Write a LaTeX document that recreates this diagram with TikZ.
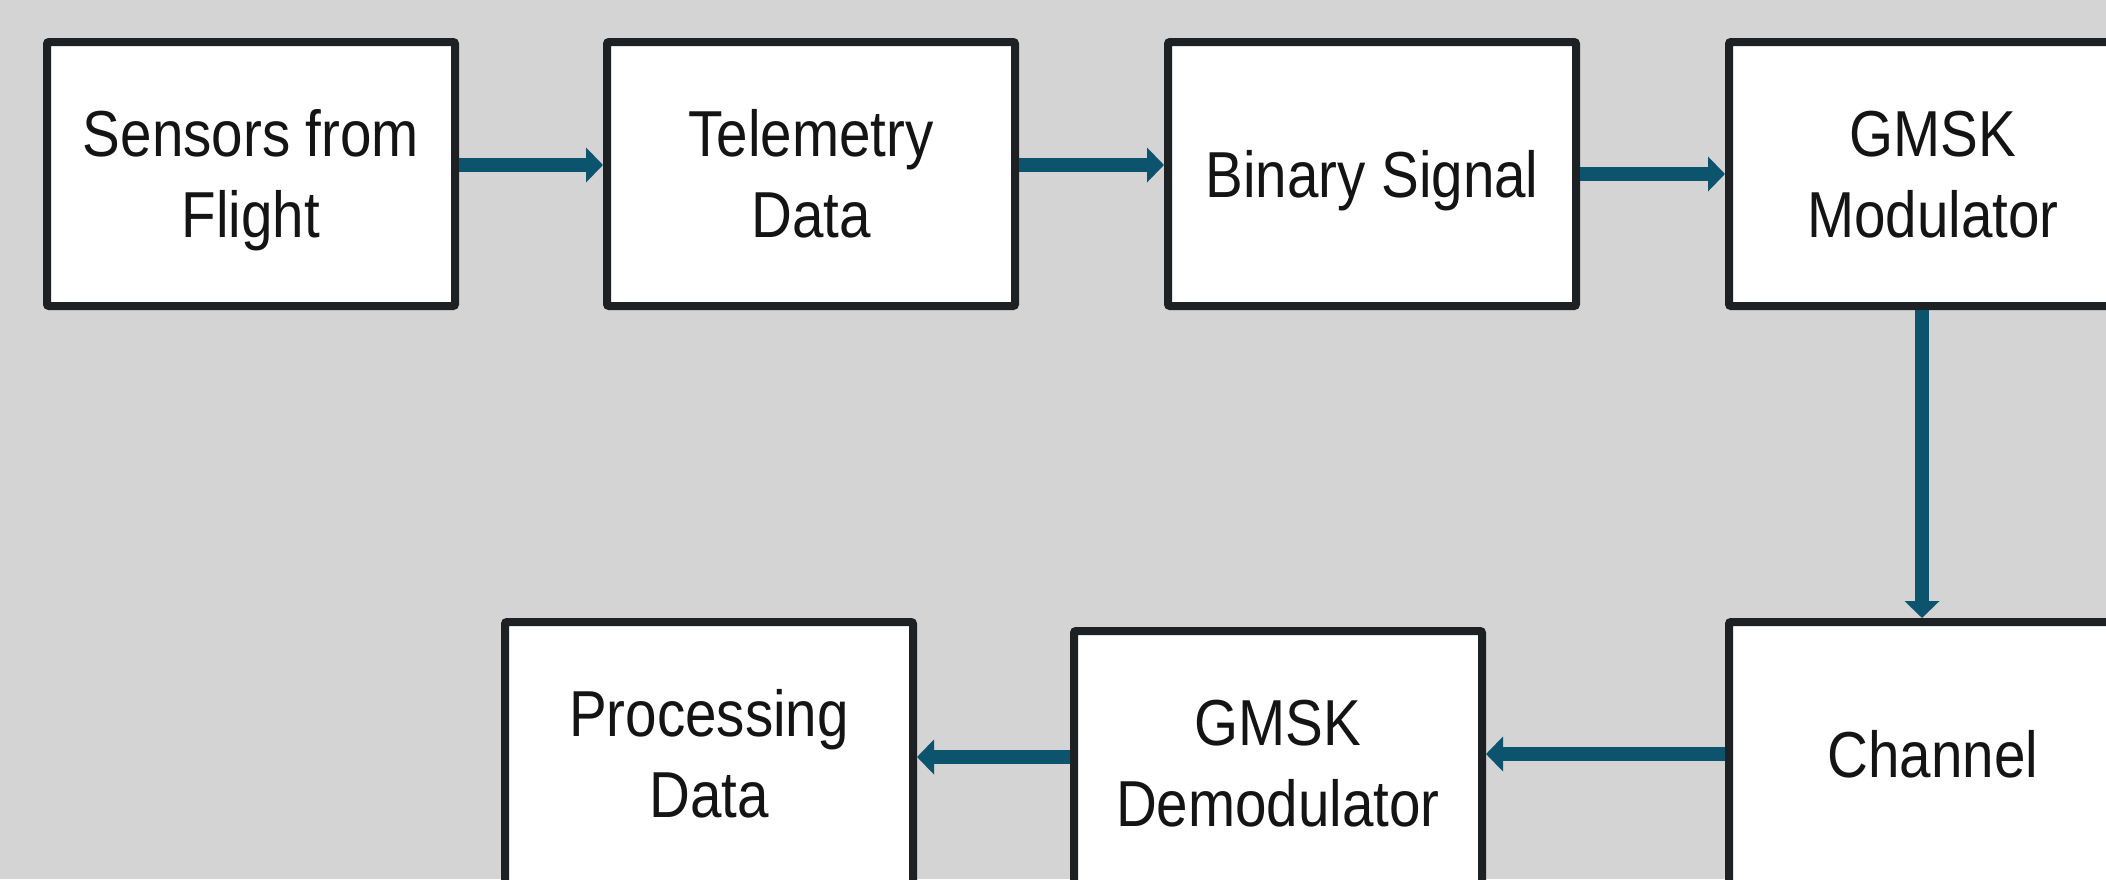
\documentclass[tikz,border=0pt]{standalone}
\usepackage{fontspec}
\setmainfont{Liberation Sans}[FakeStretch=0.87]
\usetikzlibrary{arrows.meta}
\definecolor{bgray}{RGB}{212,212,212}
\definecolor{flow}{RGB}{12,84,110}
\definecolor{edge}{RGB}{30,33,36}
\definecolor{ink}{RGB}{20,20,20}
% fixed first-line height and last-line depth keep every label on the same baselines
\newcommand{\toprule}{\rule{0pt}{30pt}}
\newcommand{\botrule}{\rule[-7pt]{0pt}{0pt}}
\newcommand{\lbl}[1]{\toprule#1\botrule}
\tikzset{
  block/.style={draw=edge, fill=white, line width=4pt, rounded corners=1pt,
    minimum width=204pt, minimum height=132pt, inner sep=0pt, align=center,
    text=ink, font=\fontsize{32.5}{40.5}\selectfont},
  flowarrow/.style={draw=flow, line width=7pt,
    -{Triangle[width=17pt,length=8.5pt]}}
}
\begin{document}
\begin{tikzpicture}[x=0.5pt, y=-0.5pt]
  \useasboundingbox (0,0) rectangle (2106,879);
  \clip (0,0) rectangle (2106,879);
  \fill[bgray] (0,0) rectangle (2106,879);

  % transmit chain (top row)
  \node[block] (sens) at (251,174) {\lbl{Sensors from\\Flight}};
  \node[block] (tele) at (811,174) {\lbl{Telemetry\\Data}};
  \node[block] (bin)  at (1372,174) {\lbl{Binary Signal}};
  \node[block] (gmod) at (1933,174) {\lbl{GMSK\\Modulator}};

  % receive chain (bottom row)
  \node[block] (chan) at (1933,754) {\lbl{Channel}};
  \node[block] (gdem) at (1278,763) {\lbl{GMSK\\Demodulator}};
  \node[block] (proc) at (709,754) {\lbl{Processing\\Data}};

  % connectors
  \draw[flowarrow] ([yshift=4.5pt]sens.east) -- ([yshift=4.5pt]tele.west);
  \draw[flowarrow] ([yshift=4.5pt]tele.east) -- ([yshift=4.5pt]bin.west);
  \draw[flowarrow] (bin.east) -- (gmod.west);
  \draw[flowarrow] ([xshift=-5.5pt]gmod.south) -- ([xshift=-5.5pt]chan.north);
  \draw[flowarrow] (chan.west) -- (chan.west -| gdem.east);
  \draw[flowarrow] ([yshift=3pt]gdem.west) -- ([yshift=3pt]gdem.west -| proc.east);
\end{tikzpicture}
\end{document}
